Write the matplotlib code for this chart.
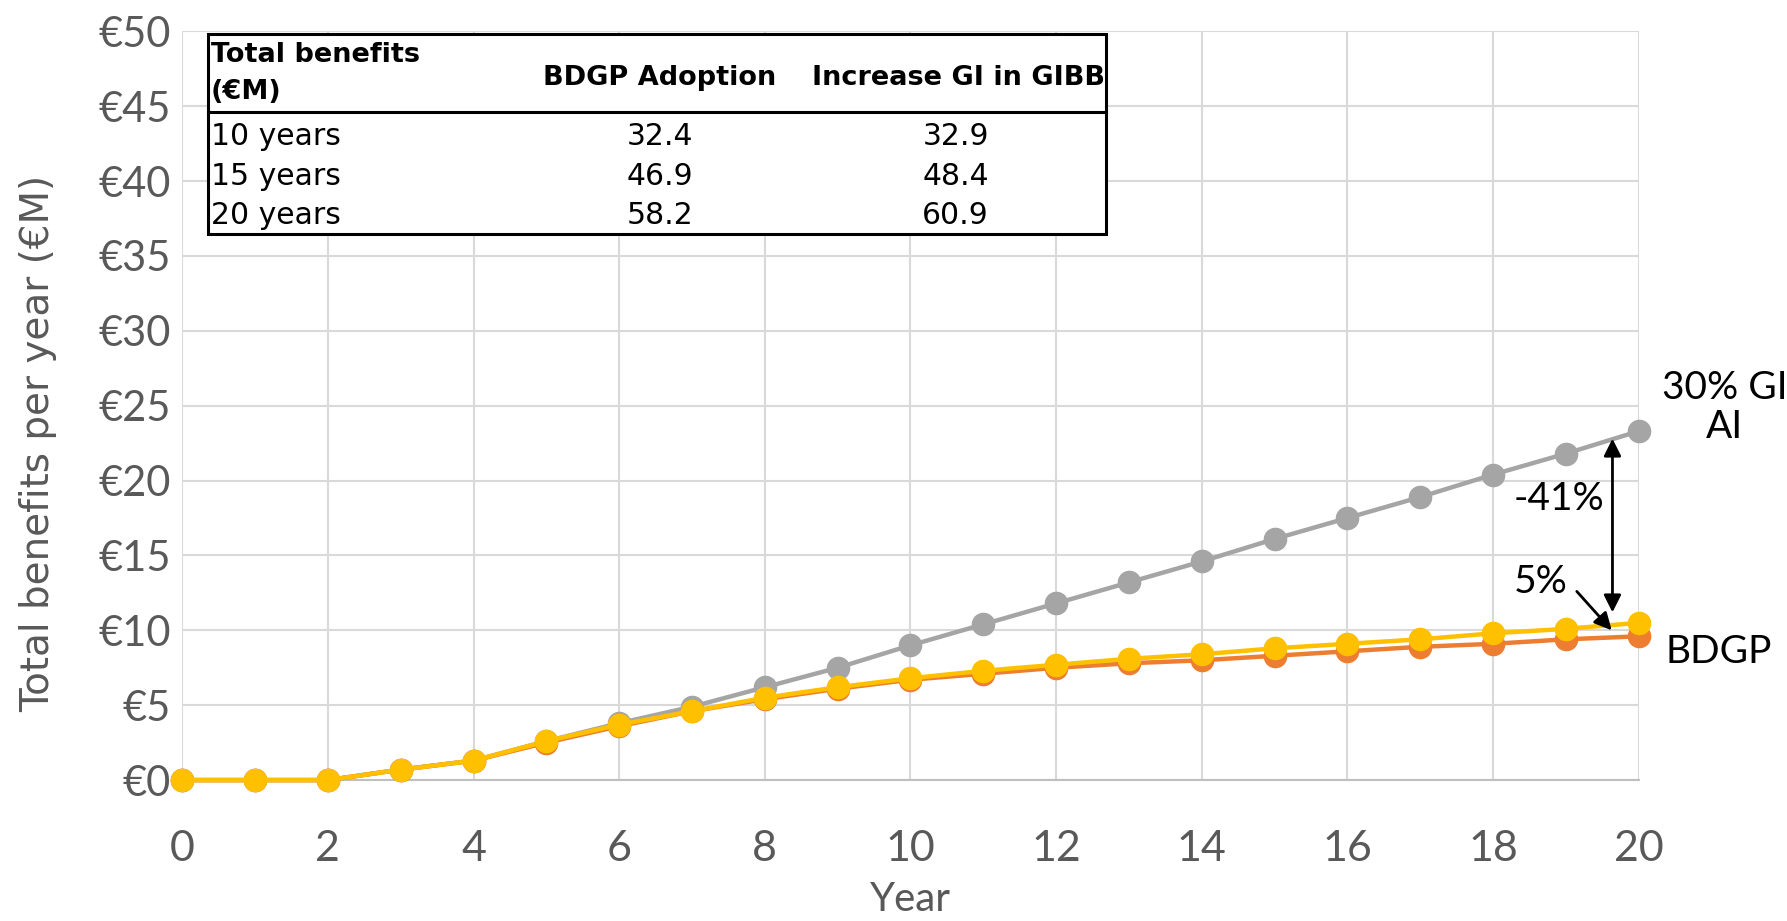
import matplotlib
matplotlib.use("Agg")
import matplotlib.pyplot as plt
from matplotlib.patches import Rectangle

years = list(range(21))
gi_ai = [0, 0, 0, 0.7, 1.3, 2.6, 3.8, 4.9, 6.2, 7.5, 9.0, 10.4, 11.8, 13.2,
         14.6, 16.1, 17.5, 18.9, 20.4, 21.8, 23.3]
bdgp = [0, 0, 0, 0.7, 1.3, 2.5, 3.6, 4.6, 5.4, 6.1, 6.7, 7.1, 7.5, 7.8,
        8.0, 8.3, 8.6, 8.9, 9.1, 9.4, 9.6]
gibb = [0, 0, 0, 0.7, 1.3, 2.6, 3.7, 4.6, 5.5, 6.2, 6.8, 7.3, 7.7, 8.1,
        8.4, 8.8, 9.1, 9.4, 9.8, 10.1, 10.5]

yticks = list(range(0, 55, 5))
ytick_labels = ["€%d" % v for v in yticks]
xticks = list(range(0, 22, 2))

table_rows = ["10 years", "15 years", "20 years"]
table_bdgp = [32.4, 46.9, 58.2]
table_gibb = [32.9, 48.4, 60.9]

fig = plt.figure(figsize=(17.87, 9.21), dpi=100)
ax = fig.add_axes([0.102, 0.153, 0.815, 0.813])

ax.plot(years, gi_ai, color="#A5A5A5", lw=3.2, marker="o", ms=16, zorder=3, clip_on=False)
ax.plot(years, bdgp, color="#ED7D31", lw=3.2, marker="o", ms=16, zorder=4, clip_on=False)
ax.plot(years, gibb, color="#FFC000", lw=3.2, marker="o", ms=16, zorder=5, clip_on=False)

ax.set_xlim(0, 20)
ax.set_ylim(0, 50)
ax.set_xticks(xticks)
ax.set_yticks(yticks)
ax.set_yticklabels(ytick_labels)
ax.grid(True, color="#D9D9D9", lw=1.5)
ax.set_axisbelow(True)
for s in ["top", "right", "left"]:
    ax.spines[s].set_visible(False)
ax.spines["bottom"].set_color("#BFBFBF")
ax.spines["bottom"].set_linewidth(1.5)
ax.tick_params(length=0, colors="#595959", labelsize=30)
ax.tick_params(axis="y", pad=8)
ax.tick_params(axis="x", labelsize=31, pad=36)
for lab in ax.get_xticklabels() + ax.get_yticklabels():
    lab.set_fontfamily("Lato")

ax.set_ylabel("Total benefits per year (€M)", fontsize=28, color="#595959",
              family="DejaVu Sans")
ax.yaxis.set_label_coords(-0.086, 0.449)
ax.set_xlabel("Year", fontsize=29, color="#595959", family="Lato", labelpad=9)

# table of cumulative benefits
ax.add_patch(Rectangle((0.0178, 0.729), 0.6162, 0.268, transform=ax.transAxes,
                       facecolor="white", edgecolor="black", lw=2.2, zorder=6, clip_on=False))
ax.plot([0.0178, 0.634], [0.892, 0.892], transform=ax.transAxes, color="black", lw=2.2,
        zorder=7, clip_on=False)
hf = dict(family="DejaVu Sans", fontsize=19.5, fontweight="bold", color="black", zorder=8,
          transform=ax.transAxes, va="center")
ax.text(0.0195, 0.968, "Total benefits", ha="left", **hf)
ax.text(0.0195, 0.919, "(€M)", ha="left", **hf)
ax.text(0.328, 0.937, "BDGP Adoption", ha="center", **hf)
ax.text(0.533, 0.937, "Increase GI in GIBB", ha="center", **hf)
rf = dict(family="DejaVu Sans", fontsize=21.5, color="black", zorder=8,
          transform=ax.transAxes, va="center")
row_y = [0.860, 0.806, 0.754]
for ry, name, a, b in zip(row_y, table_rows, table_bdgp, table_gibb):
    ax.text(0.0195, ry, name, ha="left", **rf)
    ax.text(0.328, ry, "%.1f" % a, ha="center", **rf)
    ax.text(0.531, ry, "%.1f" % b, ha="center", **rf)

# annotations
af = dict(family="Lato", fontsize=28, color="black")
ax.text(21.18, 24.9, "30% GI\nAI", ha="center", va="center", linespacing=1.1,
        clip_on=False, **af)
ax.text(21.1, 8.55, "BDGP", ha="center", va="center", clip_on=False, **af)
ax.text(18.9, 18.8, "-41%", ha="center", va="center", **af)
ax.text(18.66, 13.2, "5%", ha="center", va="center", **af)
ax.annotate("", xy=(19.64, 22.8), xytext=(19.64, 11.2),
            arrowprops=dict(arrowstyle="<|-|>", color="black", lw=2, mutation_scale=26,
                            shrinkA=0, shrinkB=0), zorder=9)
ax.annotate("", xy=(19.63, 10.0), xytext=(19.15, 12.6),
            arrowprops=dict(arrowstyle="-|>", color="black", lw=2, mutation_scale=26,
                            shrinkA=0, shrinkB=0), zorder=9)

fig.savefig("out.png", dpi=100)
